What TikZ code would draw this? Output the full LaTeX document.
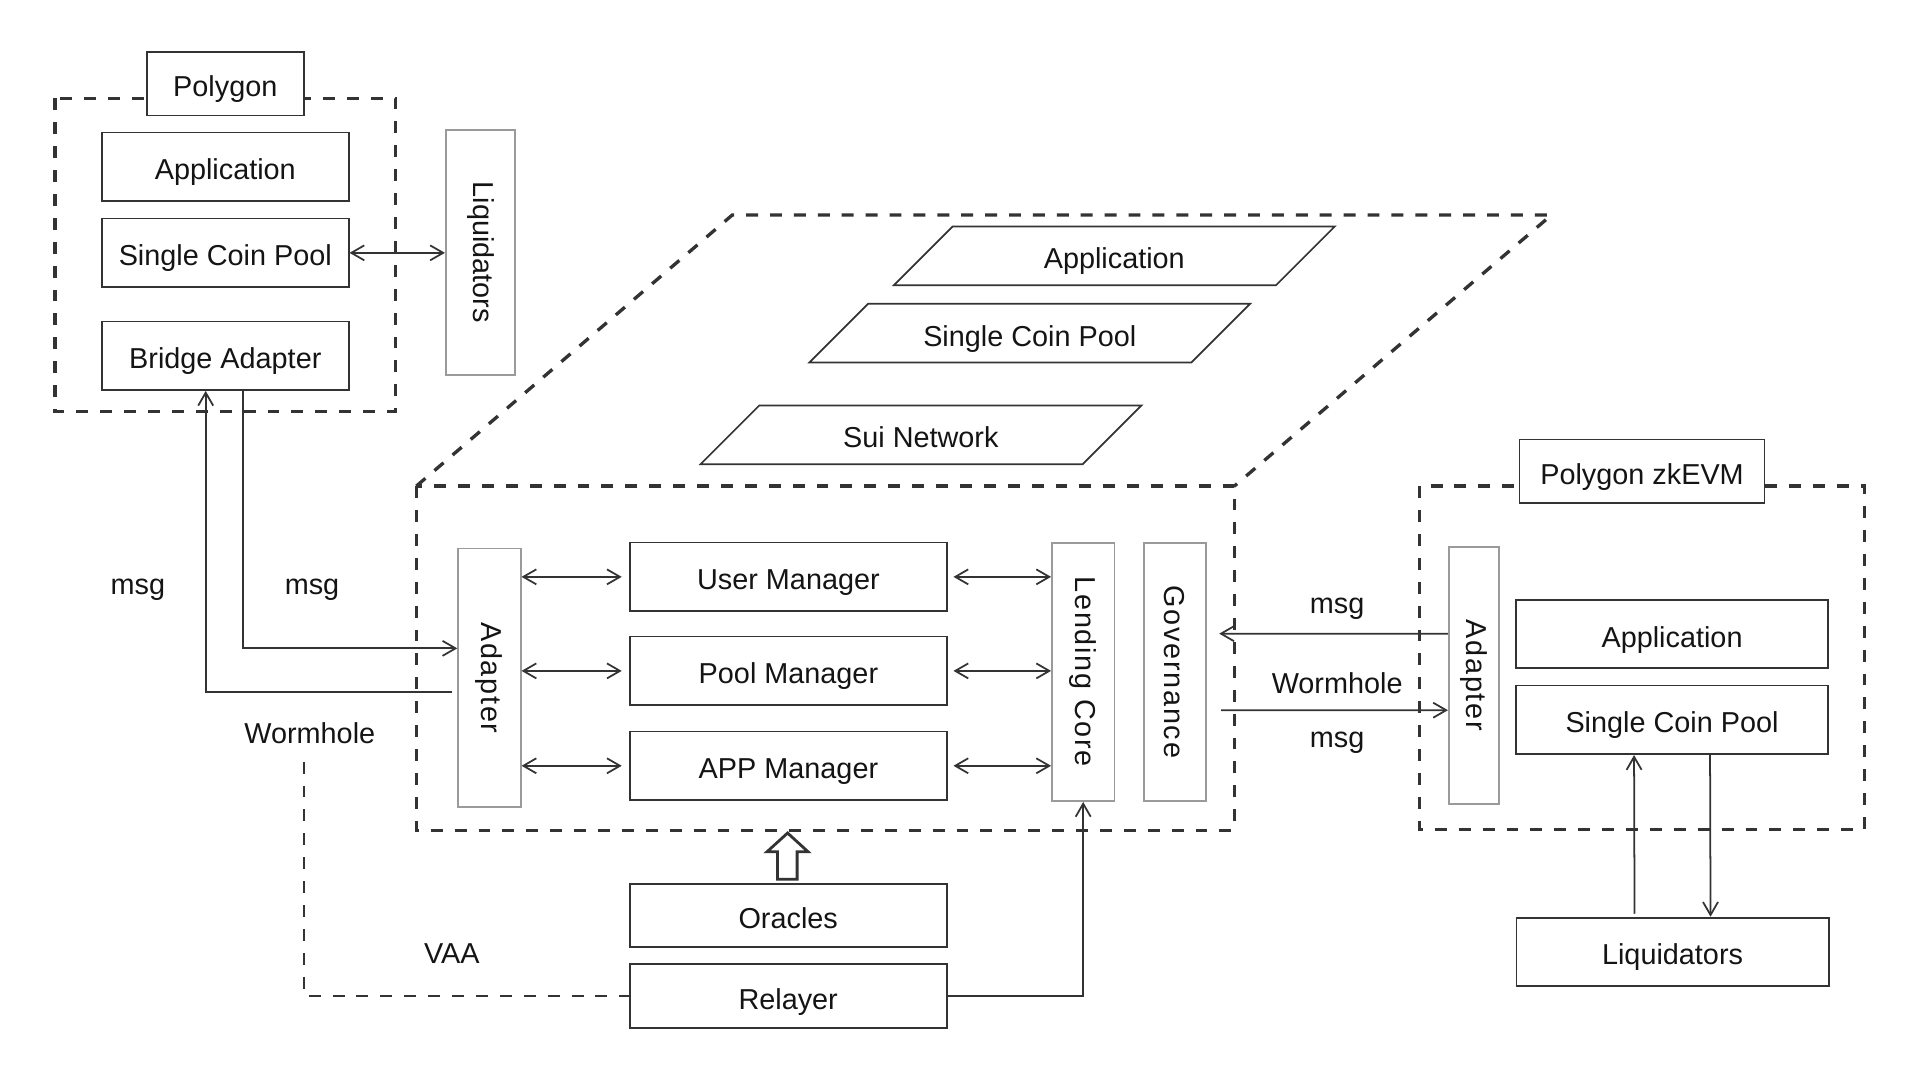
\documentclass[tikz,border=0pt]{standalone}
\usepackage{fontspec}
\setmainfont{Liberation Sans}
\newfontfamily\vfam[LetterSpace=6]{Liberation Sans}
\usepackage{xcolor}
\usepackage{tikz}
\usetikzlibrary{arrows.meta}
\definecolor{ink}{HTML}{333333}
\definecolor{rim}{HTML}{9A9A9A}
\newcommand{\lbl}{\fontsize{8.2}{9.8}\selectfont}
\newcommand{\up}[1]{\rotatebox{-90}{#1}}

\begin{document}
\begin{tikzpicture}[x=1.22449cm,y=-1.22449cm,
	>={Straight Barb[length=1.3mm,width=1.5mm]},
	every node/.style={font=\lbl,text=black!92},
	txt/.style={text height=2.6mm,text depth=0pt},
	box/.style={draw=ink,line width=.5pt,fill=white,inner sep=0pt,txt},
	side/.style={minimum width=2.467cm,minimum height=.686cm},
	mgr/.style={minimum width=3.171cm,minimum height=.686cm},
	wide/.style={minimum width=3.122cm,minimum height=.686cm},
	pillar/.style={draw=rim,line width=.5pt,fill=white,inner sep=0pt,minimum width=.625cm,minimum height=2.584cm,font=\lbl\vfam},
	frame/.style={draw=ink,line width=.95pt,dash pattern=on 3.4pt off 3.4pt},
	link/.style={draw=ink,line width=.5pt}]
	\useasboundingbox (0,0) rectangle (15.68,8.82);
	%
	%  FRAMES
	%
	\draw[frame] (0.45,0.803) rectangle (3.23,3.362);
	\draw[frame] (3.40,3.97) rectangle (10.08,6.78);
	\draw[frame] (3.40,3.97) -- (5.98,1.756) -- (12.67,1.756) -- (10.08,3.97);
	\draw[frame] (11.593,3.97) rectangle (15.227,6.773);
	%
	%  POLYGON
	%
	\node[box,minimum width=1.567cm,minimum height=.631cm] (poly) at (1.84,0.685) {Polygon};
	\node[box,side] (lapp) at (1.84,1.362) {Application};
	\node[box,side] (lpool) at (1.84,2.065) {Single Coin Pool};
	\node[box,side] (lbridge) at (1.84,2.905) {Bridge Adapter};
	\node[pillar,minimum width=.694cm,minimum height=2.449cm,font=\lbl] (lliq) at (3.924,2.061) {\up{Liquidators}};
	%
	%  SUI
	%
	\draw[link] (7.30,2.33) -- ++(3.12,0) -- ++(0.48,-0.48) -- ++(-3.12,0) -- cycle;
	\draw[link] (6.61,2.96) -- ++(3.12,0) -- ++(0.48,-0.48) -- ++(-3.12,0) -- cycle;
	\draw[link] (5.72,3.792) -- ++(3.12,0) -- ++(0.48,-0.48) -- ++(-3.12,0) -- cycle;
	\node[txt] (sapp) at (9.10,2.09) {Application};
	\node[txt] (spool) at (8.41,2.72) {Single Coin Pool};
	\node[txt] (snet) at (7.52,3.552) {Sui Network};
	\node[pillar] (sad) at (3.997,5.535) {\up{Adapter}};
	\node[box,mgr] (um) at (6.439,4.711) {User Manager};
	\node[box,mgr] (pm) at (6.439,5.479) {Pool Manager};
	\node[box,mgr] (am) at (6.439,6.254) {APP Manager};
	\node[pillar] (lcore) at (8.846,5.487) {\up{Lending Core}};
	\node[pillar] (gov) at (9.595,5.487) {\up{Governance}};
	\node[box,mgr,minimum height=.627cm] (orc) at (6.437,7.478) {Oracles};
	\node[box,mgr,minimum height=.634cm] (rel) at (6.437,8.134) {Relayer};
	\draw[ink,line width=.8pt,fill=white] (6.35,7.181) -- (6.35,6.956) -- (6.264,6.956) -- (6.432,6.803)
		-- (6.599,6.956) -- (6.51,6.956) -- (6.51,7.181) -- cycle;
	%
	%  POLYGON zkEVM
	%
	\node[box,minimum width=2.449cm,minimum height=.637cm] (zkl) at (13.41,3.85) {Polygon zkEVM};
	\node[pillar,minimum width=.502cm,minimum height=2.573cm] (zkad) at (12.037,5.515) {\up{Adapter}};
	\node[box,wide] (zkapp) at (13.655,5.178) {Application};
	\node[box,wide] (zkpool) at (13.655,5.879) {Single Coin Pool};
	\node[box,wide] (zkliq) at (13.659,7.774) {Liquidators};
	%
	%  LABELS
	%
	\node (m1) at (1.126,4.815) {msg};
	\node (m2) at (2.548,4.815) {msg};
	\node (w1) at (2.53,5.99) {Wormhole};
	\node (vaa) at (3.69,7.79) {VAA};
	\node (m3) at (10.92,4.975) {msg};
	\node (w2) at (10.92,5.58) {Wormhole};
	\node (m4) at (10.92,6.065) {msg};
	\coordinate (vaa0) at (2.483,6.22);
	%
	%  ARROWS
	%
	\path[<->,every edge/.append style={link}]
	(lpool.east) edge (lpool.east -| lliq.west)
	(um.west -| sad.east) edge[shorten >=.073cm] (um.west)
	(pm.west -| sad.east) edge[shorten >=.073cm] (pm.west)
	(am.west -| sad.east) edge[shorten >=.073cm] (am.west)
	(um.east) edge[shorten <=.056cm] (um.east -| lcore.west)
	(pm.east) edge[shorten <=.056cm] (pm.east -| lcore.west)
	(am.east) edge[shorten <=.056cm] (am.east -| lcore.west);
	%
	\draw[link,->] ([xshift=.174cm]lbridge.south) |- ([yshift=.294cm]sad.west);
	\draw[link,->,shorten <=.05cm] ([yshift=-.146cm]sad.west) -| ([xshift=-.196cm]lbridge.south);
	\draw[frame,line width=.8pt] (vaa0) |- (rel.west);
	\draw[link,->] (rel.east) -| (lcore.south);
	\draw[link,->,shorten >=.122cm] ([yshift=.416cm]zkad.west) -- ([yshift=.382cm]gov.east);
	\draw[link,->,shorten <=.141cm] ([yshift=-.383cm]gov.east) -- ([yshift=-.349cm]zkad.west);
	\draw[link,->] ([xshift=-.38cm,yshift=.03cm]zkliq.north) -- ([xshift=-.38cm]zkpool.south);
	\draw[link,->] ([xshift=.38cm]zkpool.south) -- ([xshift=.38cm]zkliq.north);
\end{tikzpicture}
\end{document}
